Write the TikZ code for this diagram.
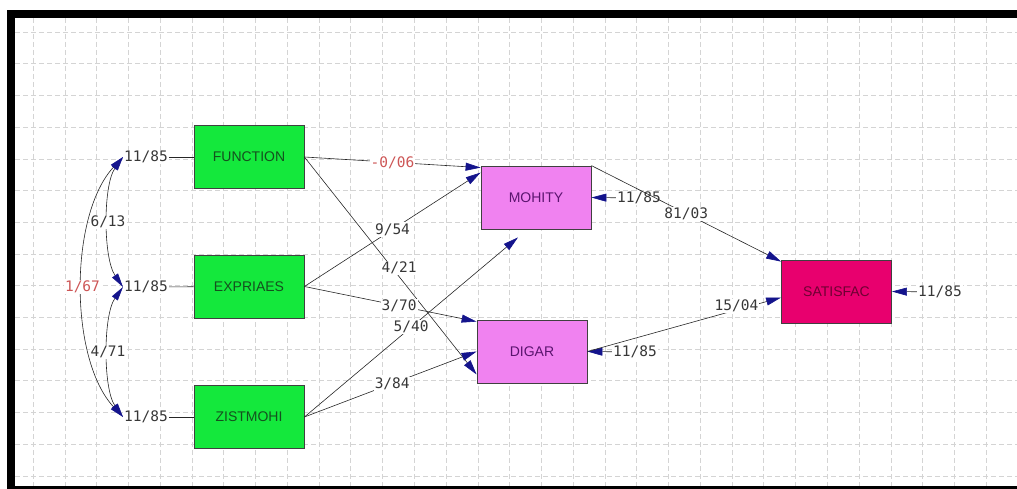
\documentclass[tikz,border=0pt]{standalone}
\usepackage{fontspec}
\usetikzlibrary{arrows.meta}
\newfontfamily\boxfont{Liberation Sans}
\newfontfamily\numfont{DejaVu Sans Mono}
\definecolor{semGreen}{RGB}{20,232,60}
\definecolor{semViolet}{RGB}{240,130,240}
\definecolor{semPink}{RGB}{232,0,110}
\definecolor{semNavy}{RGB}{20,20,140}
\definecolor{semGrid}{RGB}{212,212,212}
\definecolor{semText}{RGB}{55,55,55}
\definecolor{semRed}{RGB}{205,85,85}
\definecolor{semGreenText}{RGB}{20,80,30}
\definecolor{semVioletText}{RGB}{90,20,110}
\definecolor{semPinkText}{RGB}{110,0,50}
\tikzset{
    observed/.style={rectangle, draw=black!75, line width=0.8pt, minimum width=110pt,
                     minimum height=63pt, inner sep=0pt, font=\boxfont\fontsize{14}{14}\selectfont},
    exovar/.style={observed, fill=semGreen, text=semGreenText},
    endovar/.style={observed, fill=semViolet, text=semVioletText},
    finalvar/.style={observed, fill=semPink, text=semPinkText},
    estimate/.style={font=\numfont\fontsize{14.5}{14}\selectfont, text=semText, fill=white, inner sep=1pt},
    negative/.style={estimate, text=semRed},
    effect/.style={-{Triangle[length=15pt,width=8pt,color=semNavy]}, black!85, line width=0.6pt},
    covar/.style={{Triangle[length=14pt,width=7pt,color=semNavy]}-{Triangle[length=14pt,width=7pt,color=semNavy]},
                  black!85, line width=0.6pt},
    tie/.style={black!85, line width=0.6pt},
    gridline/.style={semGrid, line width=0.5pt, dash pattern=on 5pt off 3pt}
}

\begin{document}
\begin{tikzpicture}[x=1pt, y=-1pt]
  \useasboundingbox (0,0) rectangle (1017,489);

  % Sheet grid and frame
  \foreach \gx in {0,...,30}
    \draw[gridline] ({33+31.77*\gx},18) -- ({33+31.77*\gx},486);
  \foreach \gy in {0,...,14}
    \draw[gridline] (15,{32+31.7*\gy}) -- (1017,{32+31.7*\gy});
  \fill[black] (7,10) rectangle (1017,18);
  \fill[black] (7,10) rectangle (15,489);
  \fill[black] (7,486) rectangle (1017,489);

  % Observed variables
  \node[exovar] (func) at (249,157) {FUNCTION};
  \node[exovar] (expr) at (249,286.5) {EXPRIAES};
  \node[exovar] (zist) at (249,417) {ZISTMOHI};
  \node[endovar] (mohi) at (536,197.5) {MOHITY};
  \node[endovar] (digar) at (532,351.5) {DIGAR};
  \node[finalvar] (satis) at (836.5,291.5) {SATISFAC};

  % Variances and residuals
  \node[estimate] (eF) at (146,157) {11/85};
  \node[estimate] (eE) at (146,287) {11/85};
  \node[estimate] (eZ) at (146,417) {11/85};
  \node[estimate] (eM) at (639,198) {11/85};
  \node[estimate] (eD) at (635,352) {11/85};
  \node[estimate] (eS) at (940,292) {11/85};
  \draw[tie] (eF) -- (func);
  \draw[tie] (eE) -- (expr);
  \draw[tie] (eZ) -- (zist);
  \draw[effect] (eM) -- (mohi.east);
  \draw[effect] (eD) -- (digar.east);
  \draw[effect] (eS) -- (satis.east);

  % Covariances
  \draw[covar] (eF.west) .. controls (103,185) and (103,258) .. (eE.west)
    node[estimate, pos=0.5] {6/13};
  \draw[covar] (eE.west) .. controls (103,315) and (103,389) .. (eZ.west)
    node[estimate, pos=0.5] {4/71};
  \draw[covar] (eF.west) .. controls (69,215) and (69,359) .. (eZ.west)
    node[negative, pos=0.5] {1/67};

  % Regression paths
  \draw[effect] (func.east) -- node[negative, pos=0.5] {-0/06} ([yshift=-2pt]mohi.north west);
  \draw[effect] (expr.east) -- node[estimate, pos=0.5] {9/54} ([yshift=-7pt]mohi.north west);
  \draw[effect] (func.east) -- node[estimate, pos=0.55, yshift=9pt] {4/21} ([yshift=-23pt]digar.west);
  \draw[effect] (expr.east) -- node[estimate, pos=0.55] {3/70} ([yshift=-2pt]digar.north west);
  \draw[effect] (zist.east) -- node[estimate, pos=0.5] {5/40} ([xshift=-18pt,yshift=-8pt]mohi.south);
  \draw[effect] (zist.east) -- node[estimate, pos=0.51] {3/84} (digar.west);
  \draw[effect] (mohi.north east) -- node[estimate, pos=0.5] {81/03} ([yshift=-2pt]satis.north west);
  \draw[effect] (digar.east) -- node[estimate, pos=0.77, yshift=4pt] {15/04} ([yshift=-6pt]satis.west);
\end{tikzpicture}
\end{document}
